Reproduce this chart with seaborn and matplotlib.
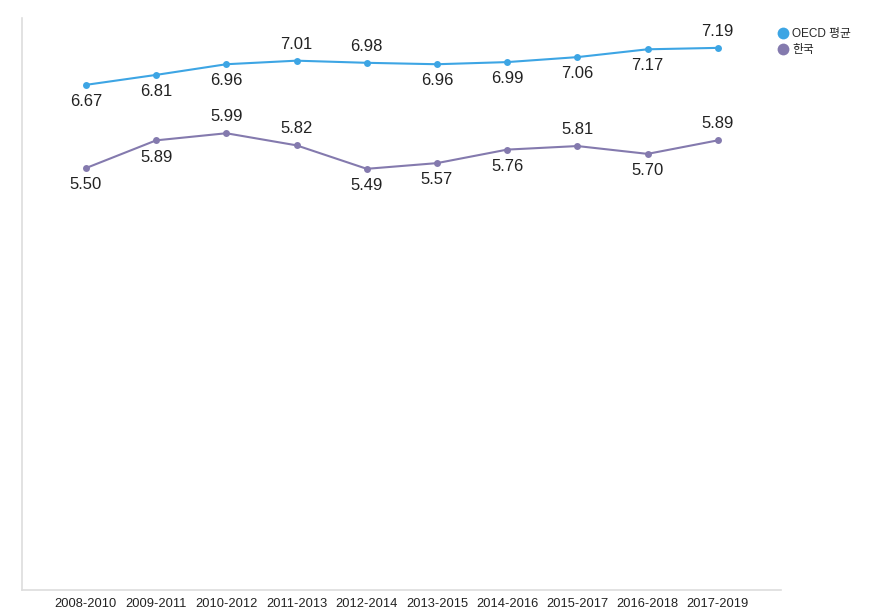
import pandas as pd
import seaborn as sns
import matplotlib.pyplot as plt
from matplotlib.lines import Line2D

sns.set_style(style="white")
plt.rcParams['font.family'] = ['Liberation Sans', 'Noto Sans CJK KR']

periods = ['2008-2010', '2009-2011', '2010-2012', '2011-2013', '2012-2014',
           '2013-2015', '2014-2016', '2015-2017', '2016-2018', '2017-2019']
oecd = [6.67, 6.81, 6.96, 7.01, 6.98, 6.96, 6.99, 7.06, 7.17, 7.19]
korea = [5.50, 5.89, 5.99, 5.82, 5.49, 5.57, 5.76, 5.81, 5.70, 5.89]
# label placement: 1 = above the point, -1 = below
oecd_pos = [-1, -1, -1, 1, 1, -1, -1, -1, -1, 1]
korea_pos = [-1, -1, 1, 1, -1, -1, -1, 1, -1, 1]

series_names = ['OECD 평균', '한국']
colors = {'OECD 평균': '#3da5e4', '한국': '#847aae'}

df = pd.DataFrame({
    'period': periods * 2,
    'x': list(range(len(periods))) * 2,
    'value': oecd + korea,
    'series': [series_names[0]] * len(periods) + [series_names[1]] * len(periods),
})

fig = plt.figure(figsize=(8.77, 6.14), dpi=100)
ax = fig.add_axes([0.0251, 0.0391, 0.8654, 0.9316])

sns.lineplot(data=df, x='x', y='value', hue='series', palette=colors,
             marker='o', markersize=5, markeredgewidth=0, linewidth=1.5,
             legend=False, ax=ax)

for vals, pos in ((oecd, oecd_pos), (korea, korea_pos)):
    for i, (v, p) in enumerate(zip(vals, pos)):
        ax.annotate(f'{v:.2f}', (i, v), xytext=(0, 12 * p), textcoords='offset points',
                    ha='center', va='center', fontsize=12, color='#222222')

ax.set_xlim(-0.91, 9.9)
ax.set_ylim(-0.43, 7.61)
ax.set_xticks(range(len(periods)))
ax.set_xticklabels(periods, fontsize=9.3, color='#222222')
ax.set_yticks([])
ax.set_xlabel('')
ax.set_ylabel('')
ax.tick_params(axis='x', length=3, color='#dddddd', direction='inout', pad=4)
for s in ['top', 'right']:
    ax.spines[s].set_visible(False)
for s in ['left', 'bottom']:
    ax.spines[s].set_color('#dddddd')
    ax.spines[s].set_linewidth(1.2)

handles = [Line2D([], [], linestyle='none', marker='o', markersize=8.5,
                  markeredgewidth=0, color=colors[n]) for n in series_names]
fig.legend(handles, series_names, loc='upper left', bbox_to_anchor=(0.873, 0.972),
           frameon=False, fontsize=8.5, handletextpad=0.15, labelspacing=0.35,
           handlelength=1.2)

plt.savefig('out.png', dpi=100)
